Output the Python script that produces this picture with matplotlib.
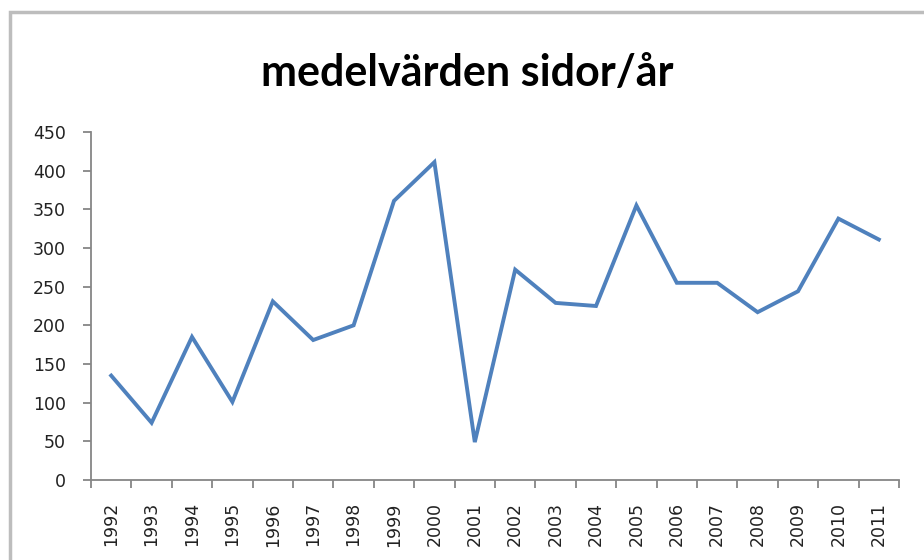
import numpy as np
import matplotlib
matplotlib.use("Agg")
import matplotlib.pyplot as plt
from matplotlib.patches import Rectangle

# medelvärden sidor per år
years = ["1992", "1993", "1994", "1995", "1996", "1997", "1998", "1999", "2000", "2001",
         "2002", "2003", "2004", "2005", "2006", "2007", "2008", "2009", "2010", "2011"]
pages = [135, 74, 185, 101, 231, 181, 200, 361, 411, 49,
         272, 229, 225, 355, 255, 255, 217, 244, 338, 311]
yticks = [0, 50, 100, 150, 200, 250, 300, 350, 400, 450]

fig = plt.figure(figsize=(9.24, 5.6), dpi=100)

# grå ram runt diagrammet (Excel-stil)
ram = Rectangle((10 / 924, -0.05), 1.2, 1.05 - (12 / 560), transform=fig.transFigure,
                fill=False, edgecolor="#bdbdbd", linewidth=2.5)
fig.patches.append(ram)

ax = fig.add_axes([91 / 924, 80 / 560, 808 / 924, 348 / 560])
x = np.arange(len(years))
ax.plot(x, pages, color="#4f81bd", linewidth=2.8, solid_joinstyle="miter")

ax.set_xlim(-0.5, len(years) - 0.5)
ax.set_ylim(0, 450)
ax.set_yticks(yticks)
ax.set_xticks(x)
ax.set_xticklabels(years, rotation=90)
ax.set_xticks(np.arange(len(years) + 1) - 0.5, minor=True)

for s in ["top", "right"]:
    ax.spines[s].set_visible(False)
for s in ["left", "bottom"]:
    ax.spines[s].set_color("#868686")
    ax.spines[s].set_linewidth(1.3)

ax.tick_params(axis="y", length=6, width=1.3, color="#868686", pad=12,
               labelsize=12.5, labelcolor="#222222")
ax.tick_params(axis="x", which="major", length=0, pad=16,
               labelsize=12.5, labelcolor="#222222")
ax.tick_params(axis="x", which="minor", length=6, width=1.3, color="#868686")

fig.text(467 / 924, 1 - 73 / 560, "medelvärden sidor/år", ha="center", va="center",
         fontsize=31, fontweight="bold", family="Lato", color="black")

fig.savefig("out.png", dpi=100)
